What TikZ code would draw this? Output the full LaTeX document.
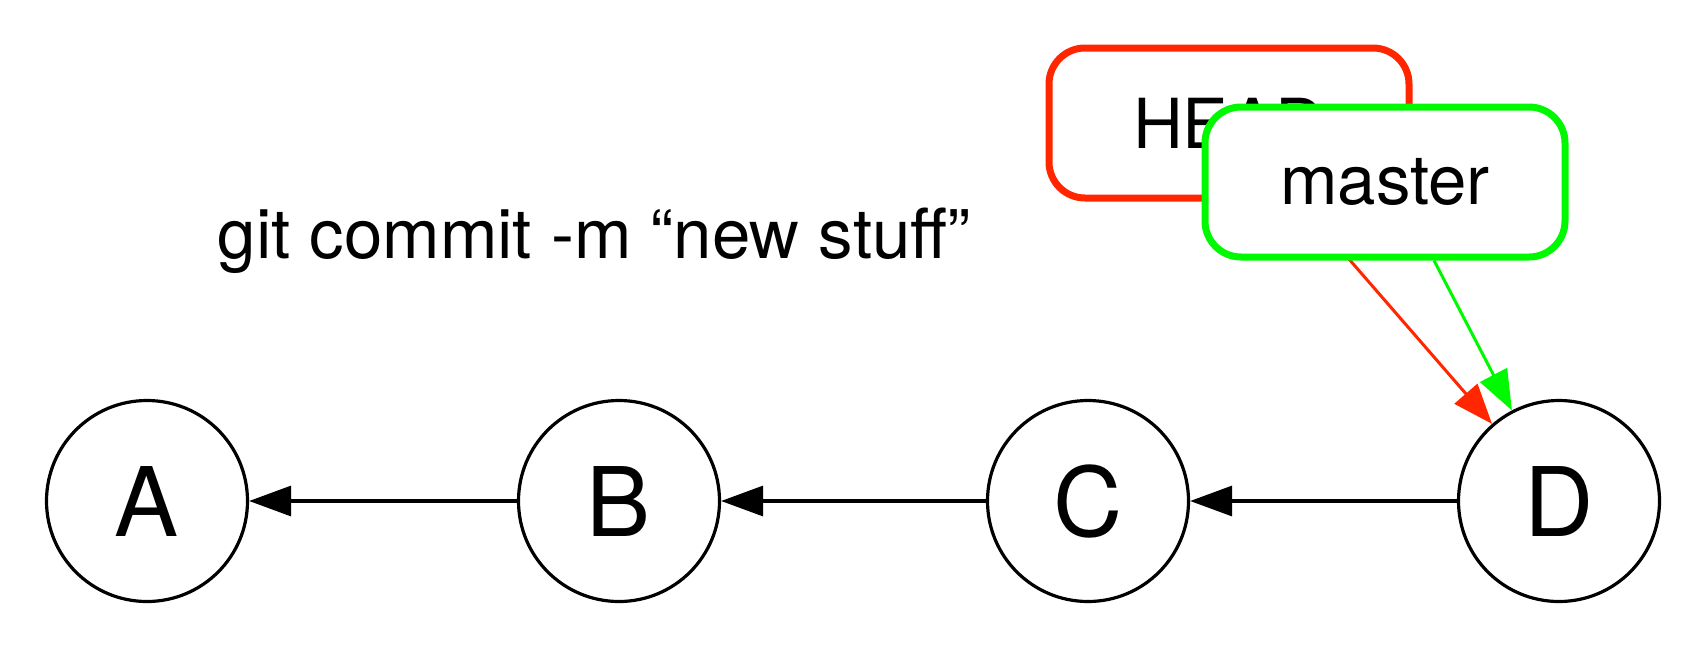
\documentclass[tikz,border=0pt]{standalone}
\usepackage{fontspec}
\setmainfont{TeX Gyre Heros}
\usetikzlibrary{arrows.meta,calc}
\definecolor{headred}{HTML}{FF2600}
\definecolor{mastergreen}{HTML}{00F900}
\tikzset{
  commit/.style={circle,draw=black,line width=3.2pt,fill=white,minimum size=201pt,inner sep=0pt,
    font=\fontsize{96}{100}\selectfont},
  refbox/.style={rectangle,rounded corners=36pt,line width=7pt,fill=white,
    minimum width=360pt,minimum height=150pt,inner sep=0pt,font=\fontsize{69}{80}\selectfont},
  parent/.style={draw=black,line width=3.2pt,-{Triangle[length=42pt,width=30pt]}},
  refarrow/.style={line width=3pt,-{Triangle[length=40pt,width=30pt]}},
  cmd/.style={font=\fontsize{69}{80}\selectfont,inner sep=0pt}
}
\begin{document}
\begin{tikzpicture}[x=1pt,y=-1pt]
\useasboundingbox (0,0) rectangle (1708,649);
\node[commit] (A) at (147,501) {A};
\node[commit] (B) at (619,501) {B};
\node[commit] (C) at (1088,501) {C};
\node[commit] (D) at (1559,501) {D};
\draw[parent] (B) -- (A);
\draw[parent] (C) -- (B);
\draw[parent] (D) -- (C);
\node[cmd,anchor=base] (cmd) at (594,258) {git commit -m “new stuff”};
\node[refbox,draw=headred] (HEAD) at (1229,123) {HEAD};
\coordinate (hs) at ($(HEAD.south)+(70,0)$);
\draw[refarrow,draw=headred,fill=headred] (hs) -- (D);
\node[refbox,draw=mastergreen] (master) at (1385,182) {master};
\coordinate (ms) at ($(master.south)+(49,0)$);
\draw[refarrow,draw=mastergreen,fill=mastergreen] (ms) -- (D);
\end{tikzpicture}
\end{document}
